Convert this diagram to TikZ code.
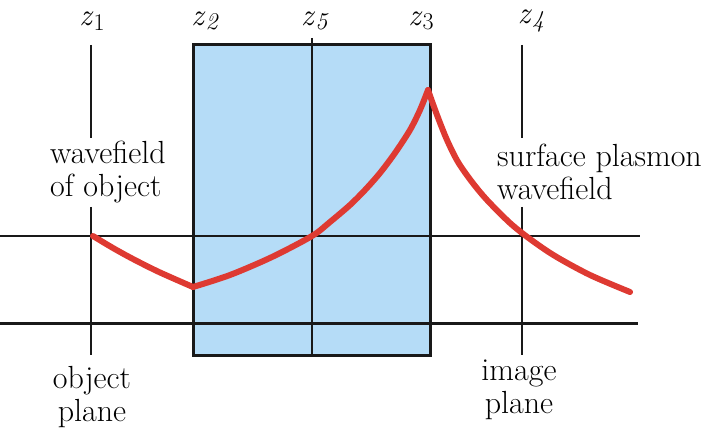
\documentclass[tikz,border=0pt]{standalone}
\usepackage{fontspec}
\begin{document}
\begin{tikzpicture}[x=1pt,y=-1pt,
  thinline/.style={line width=1.5pt,black!90},
  thickline/.style={line width=3pt,black!90},
  wave/.style={line width=6pt,draw={rgb,255:red,222;green,58;blue,50},line cap=round,line join=round},
  lbl/.style={font=\fontsize{32}{33}\selectfont,inner sep=0pt},
  zlbl/.style={font=\fontsize{31}{31}\selectfont,inner sep=0pt}]
\useasboundingbox (0,0) rectangle (705,433);
% slab
\fill[fill={rgb,255:red,181;green,220;blue,247}] (193,45) rectangle (430,355);
% horizontal lines
\coordinate (hl1) at (0,236); \coordinate (hr1) at (640,236);
\coordinate (hl2) at (0,323); \coordinate (hr2) at (638,323);
\draw[thinline] (hl1) -- (hr1);
\draw[thickline] (hl2) -- (hr2);
% vertical lines
\coordinate (z1t) at (91,45); \coordinate (z1a) at (91,138);
\coordinate (z1b) at (91,207); \coordinate (z1e) at (91,355);
\draw[thinline] (z1t) -- (z1a) (z1b) -- (z1e);
\coordinate (z4t) at (522,45); \coordinate (z4a) at (522,138);
\coordinate (z4b) at (522,207); \coordinate (z4e) at (522,355);
\draw[thinline] (z4t) -- (z4a) (z4b) -- (z4e);
\coordinate (z5t) at (312,38); \coordinate (z5e) at (312,355);
\draw[thinline] (z5t) -- (z5e);
\draw[thickline] (193,45) rectangle (430,355);
% labels
\node[zlbl] (lz1) at (92,21) {\textit{z}\raisebox{-0.35ex}{\fontsize{24}{24}\selectfont 1}};
\node[zlbl] (lz2) at (205,21) {\textit{z}\raisebox{-0.35ex}{\fontsize{24}{24}\selectfont\textit{2}}};
\node[zlbl] (lz5) at (315,21) {\textit{z}\raisebox{-0.35ex}{\fontsize{24}{24}\selectfont\textit{5}}};
\node[zlbl] (lz3) at (421,21) {\textit{z}\raisebox{-0.35ex}{\fontsize{24}{24}\selectfont 3}};
\node[zlbl] (lz4) at (531,21) {\textit{z}\raisebox{-0.35ex}{\fontsize{24}{24}\selectfont\textit{4}}};
\node[lbl,anchor=west,align=left] (wobj) at (50,172) {wavefield\\of object};
\node[lbl,anchor=west,align=left] (wsp) at (497,172) {surface plasmon\\wavefield};
\node[lbl,align=center] (op) at (92,397) {object\\plane};
\node[lbl,align=center] (ip) at (519,390) {image\\plane};
% wave
\draw[wave] plot[smooth,tension=0.5] coordinates {(93,236) (113,248) (133,259) (159,272) (193,287)};
\draw[wave] plot[smooth,tension=0.5] coordinates {(193,287) (230,275) (272,257) (312,236) (330,222) (350,205) (365,190) (380,173) (395,153) (410,130) (420,110) (428,90)};
\draw[wave] plot[smooth,tension=0.5] coordinates {(428,90) (437,115) (447,140) (458,162) (472,182) (487,200) (510,223) (530,239) (555,256) (590,275) (630,292)};
\end{tikzpicture}
\end{document}
